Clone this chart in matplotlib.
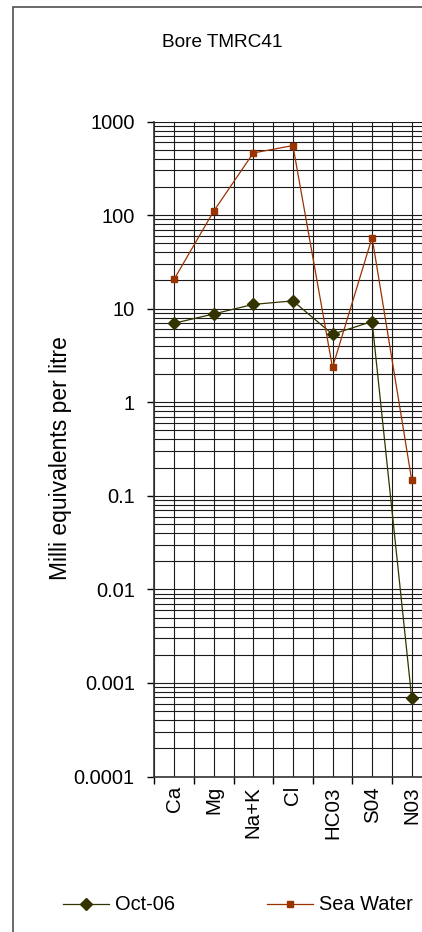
import numpy as np
import matplotlib
matplotlib.use('Agg')
import matplotlib.pyplot as plt
from matplotlib.patches import Rectangle

plt.rcParams['font.family'] = ['Liberation Sans', 'DejaVu Sans']

ions = ['Ca', 'Mg', 'Na+K', 'Cl', 'HC03', 'S04', 'N03']
oct06 = [6.98, 8.78, 11.1, 12.1, 5.33, 7.28, 0.00069]
sea_water = [20.6, 110, 461, 553, 2.35, 57.5, 0.147]
ytick_vals = [1000, 100, 10, 1, 0.1, 0.01, 0.001, 0.0001]
ytick_text = ['1000', '100', '10', '1', '0.1', '0.01', '0.001', '0.0001']

W, H = 422, 932
fig = plt.figure(figsize=(W / 100, H / 100), dpi=100)

# outer chart border (cut off on the right and bottom)
fig.patches.append(Rectangle((13 / W, -0.1), 1.2, 1.1 - 7 / H, transform=fig.transFigure,
                             fill=False, edgecolor='#505050', linewidth=1.2))

# plot area runs past the right edge, like the original screenshot
ax = fig.add_axes([154.3 / W, 1 - 776.5 / H, 277.2 / W, 655 / H])
x = np.arange(len(ions))

ax.set_yscale('log')
ax.set_ylim(1e-4, 1e3)
ax.set_xlim(-0.5, len(ions) - 0.5)

ax.grid(which='both', axis='both', color='#1a1a1a', linewidth=0.8)
ax.set_axisbelow(True)

ax.plot(x, oct06, color='#333300', linewidth=0.9, marker='D', markersize=6,
        markeredgecolor='#333300', markerfacecolor='#333300', label='Oct-06', zorder=3)
ax.plot(x, sea_water, color='#993300', linewidth=0.9, marker='s', markersize=5,
        markeredgecolor='#993300', markerfacecolor='#993300', label='Sea Water', zorder=3)

ax.set_yticks(ytick_vals)
ax.set_yticklabels(ytick_text, fontsize=14.4)
ax.tick_params(axis='y', which='major', direction='out', length=5, width=1, pad=9)
ax.tick_params(axis='y', which='minor', length=0)

ax.set_xticks(x)
ax.set_xticklabels(ions, rotation=90, fontsize=14.8)
ax.set_xticks(np.arange(-0.5, len(ions), 0.5), minor=True)
ax.tick_params(axis='x', which='major', length=0, pad=7)
ax.tick_params(axis='x', which='minor', direction='out', length=5, width=1)
for lab in ax.get_xticklabels():
    lab.set_verticalalignment('top')

for s in ['left', 'bottom']:
    ax.spines[s].set_color('#333333')
    ax.spines[s].set_linewidth(1.2)
ax.spines['top'].set_visible(False)
ax.spines['right'].set_visible(False)

fig.text(222 / W, 1 - 42.5 / H, 'Bore TMRC41', ha='center', va='center', fontsize=13.7)
fig.text(60 / W, 1 - 458 / H, 'Milli equivalents per litre', rotation=90,
         ha='center', va='center', fontsize=16.5)

handles, labels = ax.get_legend_handles_labels()
fig.legend(handles, labels, loc='center', bbox_to_anchor=(237.5 / W, 1 - 905 / H),
           ncol=2, frameon=False, fontsize=14.4, handlelength=2.3, handletextpad=0.3,
           columnspacing=4.6, borderpad=0)

fig.savefig('out.png', dpi=100)
